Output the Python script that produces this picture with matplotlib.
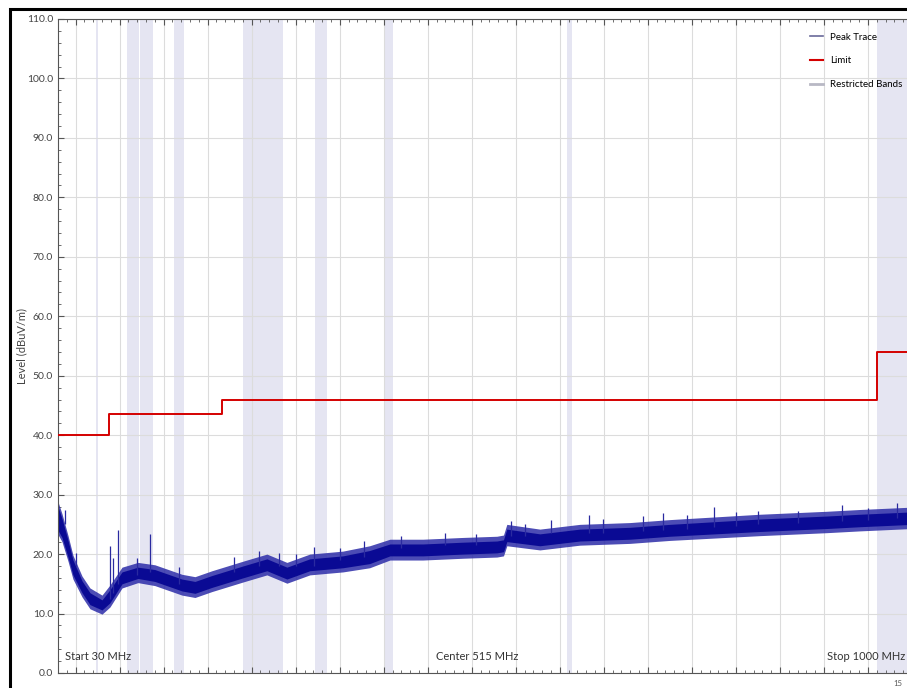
import matplotlib.pyplot as plt
from matplotlib.lines import Line2D
from matplotlib.patches import Rectangle
from matplotlib.ticker import MultipleLocator
import numpy as np

plt.rcParams['font.family'] = ['Lato', 'DejaVu Sans']

# restricted bands (MHz)
band_lo = [37.5, 73, 74.8, 108, 123, 149.9, 156.7, 162.0125, 167.72, 240, 322, 399.9, 608, 960]
band_hi = [38.25, 74.6, 75.2, 121.94, 138, 150.05, 156.9, 167.17, 173.2, 285, 335.4, 410, 614, 1240]

# limit line (dBuV/m)
lim_f = [30, 88, 216, 960, 1000]
lim_v = [40, 43.5, 46, 54, 54]

# peak trace envelope (dense core + fuzzy outer edge)
tr_f = [30, 34.5, 41.4, 47, 57.3, 66.3, 80, 89, 102.7, 120.8, 140, 170.8, 185.6, 204.9,
        240, 267.3, 290, 316, 353.6, 384, 407, 444.4, 489.9, 528.5, 536, 539.8, 577.3,
        622.7, 679.5, 725, 827, 903, 940.6, 1000]
tr_lo = [24.0, 22.8, 19.5, 16.5, 13.5, 11.5, 10.6, 11.8, 15.0, 15.9, 15.4, 13.8, 13.4, 14.4,
         16.0, 17.2, 15.8, 17.2, 17.7, 18.4, 19.7, 19.7, 20.0, 20.2, 20.4, 22.1, 21.4,
         22.2, 22.5, 23.0, 23.8, 24.3, 24.6, 25.0]
tr_hi = [28.0, 26.0, 22.3, 19.0, 15.5, 13.5, 12.3, 14.0, 17.0, 17.8, 17.4, 15.8, 15.4, 16.4,
         18.0, 19.2, 17.8, 19.2, 19.7, 20.6, 21.7, 21.7, 22.0, 22.2, 22.4, 24.2, 23.4,
         24.2, 24.5, 25.0, 25.9, 26.4, 26.7, 27.1]
tr_out_lo = [23.3, 22.1, 18.8, 15.8, 12.8, 10.8, 9.9, 11.1, 14.3, 15.2, 14.7, 13.1, 12.7, 13.7,
             15.3, 16.5, 15.1, 16.5, 17.0, 17.7, 19.0, 19.0, 19.3, 19.5, 19.7, 21.4, 20.7,
             21.5, 21.8, 22.3, 23.1, 23.6, 23.9, 24.3]
tr_out_hi = [28.8, 26.8, 23.1, 19.8, 16.3, 14.3, 13.1, 14.8, 17.8, 18.6, 18.2, 16.6, 16.2, 17.2,
             18.8, 20.0, 18.6, 20.0, 20.5, 21.4, 22.5, 22.5, 22.8, 23.0, 23.2, 25.0, 24.2,
             25.0, 25.3, 25.8, 26.7, 27.2, 27.5, 27.9]

# single spikes above the noise floor
spk_f = [38, 50.4, 89, 92.5, 98.1, 119.7, 134.5, 167.4, 230, 258, 281, 300, 320.7, 350,
         377.5, 420, 470, 505, 545, 560, 590, 633, 648.8, 694, 717, 745, 775, 800,
         825, 870, 920, 950, 982.6]
spk_base = [25, 18, 12.5, 13.5, 15, 16.5, 17, 15, 17, 18, 18, 18, 18, 19,
            19.5, 21, 21.5, 21.5, 23, 23, 23.5, 23.5, 23.5, 23.8, 24, 24.2, 24.5, 24.8,
            25, 25.2, 25.5, 25.8, 26]
spk_top = [27.5, 20.2, 21.4, 19.3, 24.0, 19.3, 23.4, 17.8, 19.5, 20.5, 20.2, 20.0, 21.2, 21.0,
           22.2, 23.0, 23.5, 23.3, 25.5, 25.0, 25.8, 26.6, 25.9, 26.4, 26.9, 26.5, 27.9, 27.0,
           27.2, 27.3, 28.3, 27.8, 28.6]

fig = plt.figure(figsize=(9.07, 6.88), dpi=100)
ax = fig.add_axes([58 / 907, 15 / 688, 854 / 907, 654 / 688])

for lo, hi in zip(band_lo, band_hi):
    ax.axvspan(lo, hi, color='#e5e5f2', lw=0, zorder=0)

ax.set_xlim(30, 1000)
ax.set_ylim(0, 110)
ax.xaxis.set_major_locator(MultipleLocator(50))
ax.xaxis.set_minor_locator(MultipleLocator(10))
ax.yaxis.set_major_locator(MultipleLocator(10))
ax.yaxis.set_minor_locator(MultipleLocator(2))
ax.grid(True, which='major', color='#dcdcdc', lw=0.8, zorder=0.5)
ax.set_axisbelow(True)
ax.tick_params(which='both', direction='in', top=True, bottom=True, labelbottom=False,
               colors='#555555', labelcolor='#444444', labelsize=7.5)
ax.tick_params(which='major', length=4)
ax.tick_params(which='minor', length=2.5)
ax.yaxis.set_major_formatter(plt.FuncFormatter(lambda v, p: f'{v:.1f}'))
for s in ax.spines.values():
    s.set_color('#555555')
    s.set_linewidth(0.8)

# peak trace
ax.fill_between(tr_f, tr_out_lo, tr_out_hi, color='#2c2ca8', lw=0, alpha=0.85, zorder=2)
ax.fill_between(tr_f, tr_lo, tr_hi, color='#0a0a94', lw=0, zorder=2.1)
ax.vlines(spk_f, spk_base, spk_top, color='#2a2aa0', lw=0.9, zorder=2.2)

# limit
ax.step(lim_f, lim_v, where='post', color='#d40000', lw=1.4, zorder=3)

ax.set_ylabel('Level (dBuV/m)', fontsize=8, color='#444444')
ax.yaxis.set_label_coords((27 - 58) / 854, 0.5)

ax.text(0.008, 0.02, 'Start 30 MHz', transform=ax.transAxes, fontsize=8, color='#333333')
ax.text(0.4906, 0.02, 'Center 515 MHz', transform=ax.transAxes, fontsize=8,
        color='#333333', ha='center')
ax.text((905 - 58) / 854, 0.02, 'Stop 1000 MHz', transform=ax.transAxes, fontsize=8,
        color='#333333', ha='right')

handles = [Line2D([], [], color='#6a6a9a', lw=1.2),
           Line2D([], [], color='#d40000', lw=1.5),
           Line2D([], [], color='#b8b8c4', lw=2)]
fig.legend(handles, ['Peak Trace', 'Limit', 'Restricted Bands'], loc='upper left',
           bbox_to_anchor=(805 / 907, 1 - 28 / 688), frameon=False, fontsize=7,
           handlelength=1.4, labelspacing=1.5, borderpad=0, handletextpad=0.7)

fig.text(893 / 907, 2 / 688, '15', fontsize=5.5, color='#555555')

# outer frame
fig.add_artist(Rectangle((10 / 907, -0.1), 1.2, 1.1 - 9.5 / 688, fill=False,
                         lw=2.2, edgecolor='black', transform=fig.transFigure))

fig.savefig('out.png', dpi=100)
